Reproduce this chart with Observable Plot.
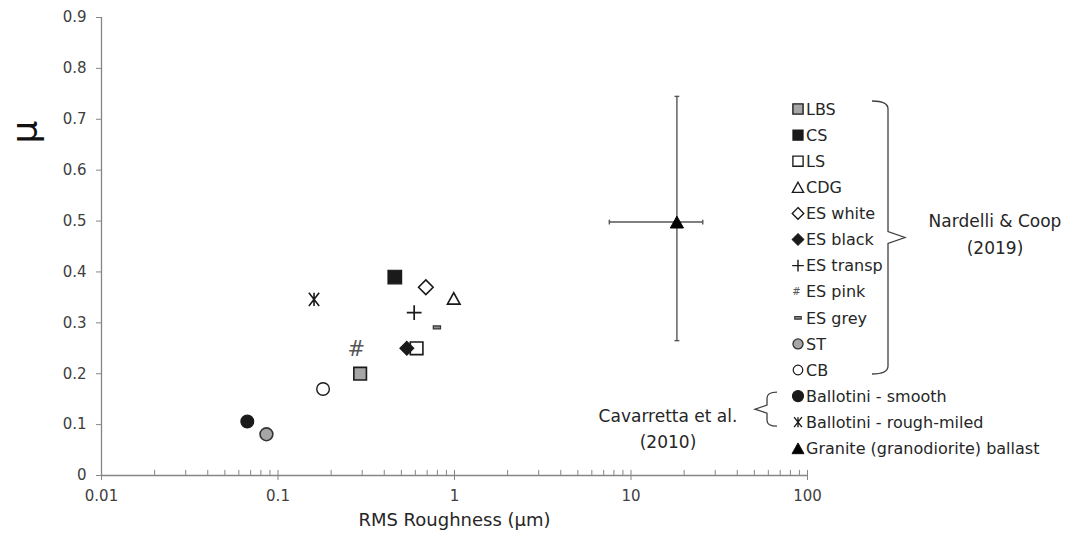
<!DOCTYPE html>
<html><head><meta charset="utf-8">
<script src="https://cdn.jsdelivr.net/npm/d3@7"></script>
<script src="https://cdn.jsdelivr.net/npm/@observablehq/plot@0.6"></script>
<style>body{margin:0;background:#fff} svg{display:block}</style>
</head><body><div id="chart"></div>
<script>
// ---- data ----
const names = ["LBS","CS","LS","CDG","ES white","ES black","ES transp","ES pink","ES grey","ST","CB","Ballotini - smooth","Ballotini - rough-miled","Granite (granodiorite) ballast"];
const rms = [0.292, 0.459, 0.610, 0.99, 0.688, 0.537, 0.591, 0.278, 0.795, 0.086, 0.180, 0.067, 0.160, 18.2];
const mu  = [0.200, 0.390, 0.250, 0.348, 0.370, 0.250, 0.320, 0.249, 0.291, 0.081, 0.170, 0.106, 0.346, 0.498];
const graniteRmsLow = [7.54], graniteRmsHigh = [25.5];
const graniteMuLow = [0.265], graniteMuHigh = [0.745];
const yTicks = [0,0.1,0.2,0.3,0.4,0.5,0.6,0.7,0.8,0.9];
const yTickLabels = ["0","0.1","0.2","0.3","0.4","0.5","0.6","0.7","0.8","0.9"];
const xTicks = [0.01,0.1,1,10,100];
const xTickLabels = ["0.01","0.1","1","10","100"];
const xMinorTicks = [0.02,0.03,0.04,0.05,0.06,0.07,0.08,0.09,0.2,0.3,0.4,0.5,0.6,0.7,0.8,0.9,2,3,4,5,6,7,8,9,20,30,40,50,60,70,80,90];
const xTitle = "RMS Roughness (\u03bcm)";
const yTitle = "\u03bc";
const groupNames = ["Nardelli & Coop", "Cavarretta et al."];
const groupYears = ["(2019)", "(2010)"];
const groupFirst = [0, 11], groupLast = [10, 12];

// ---- symbols ----
const R = s => Math.sqrt(s / Math.PI);
const sym = {
  square: {draw(c,s){const r=R(s); c.rect(-r,-r,2*r,2*r);}},
  circle: {draw(c,s){const r=R(s); c.moveTo(r,0); c.arc(0,0,r,0,2*Math.PI);}},
  triangle: {draw(c,s){const r=R(s); c.moveTo(0,-0.9*r); c.lineTo(r,0.9*r); c.lineTo(-r,0.9*r); c.closePath();}},
  diamond: {draw(c,s){const r=R(s); c.moveTo(0,-r); c.lineTo(r,0); c.lineTo(0,r); c.lineTo(-r,0); c.closePath();}},
  plus: {draw(c,s){const r=R(s); c.moveTo(-r,0); c.lineTo(r,0); c.moveTo(0,-r); c.lineTo(0,r);}},
  aster: {draw(c,s){const r=R(s), a=0.78*r; c.moveTo(-a,-r); c.lineTo(a,r); c.moveTo(a,-r); c.lineTo(-a,r); c.moveTo(0,-r); c.lineTo(0,r);}},
  dash: {draw(c,s){const r=R(s); c.rect(-r,-0.4*r,2*r,0.8*r);}},
  hcap: {draw(c,s){const r=R(s); c.moveTo(-r,0); c.lineTo(r,0);}},
  vcap: {draw(c,s){const r=R(s); c.moveTo(0,-r); c.lineTo(0,r);}}
};
const ink = "#1a1a1a", grey = "#a6a6a6";
const style = {
  "LBS": {s:"square", fill:grey, stroke:ink, sw:1.6, r:6.3, lr:5.1},
  "CS": {s:"square", fill:ink, stroke:ink, sw:1.2, r:6.8, lr:5.1},
  "LS": {s:"square", fill:"#fff", stroke:ink, sw:1.6, r:6.3, lr:5.1},
  "CDG": {s:"triangle", fill:"#fff", stroke:ink, sw:1.6, r:6.3, lr:5.6},
  "ES white": {s:"diamond", fill:"#fff", stroke:ink, sw:1.6, r:7.3, lr:5.8},
  "ES black": {s:"diamond", fill:ink, stroke:ink, sw:1.2, r:6.9, lr:5.8},
  "ES transp": {s:"plus", fill:"none", stroke:ink, sw:1.7, r:7.4, lr:5.8},
  "ES pink": {s:"hash", fill:"#555", fontSize:21, lfs:10},
  "ES grey": {s:"dash", fill:"#8c8c8c", stroke:"#333", sw:1.2, r:3.6, lr:3.3},
  "ST": {s:"circle", fill:grey, stroke:"#333", sw:1.6, r:6.4, lr:5.0},
  "CB": {s:"circle", fill:"#fff", stroke:ink, sw:1.4, r:6.3, lr:4.8},
  "Ballotini - smooth": {s:"circle", fill:ink, stroke:ink, sw:1.2, r:6.4, lr:5.6},
  "Ballotini - rough-miled": {s:"aster", fill:"none", stroke:ink, sw:1.6, r:6.6, lr:5.0},
  "Granite (granodiorite) ballast": {s:"triangle", fill:"#000", stroke:"#000", sw:1, r:6.6, lr:6.0}
};
const points = names.map((n,i) => ({name:n, rms:rms[i], mu:mu[i]}));
const err = graniteRmsLow.map((d,i) => ({x: rms[13], y: mu[13], xl: d, xh: graniteRmsHigh[i], yl: graniteMuLow[i], yh: graniteMuHigh[i]}));

const axisColor = "#868686", tickText = "#404040", textColor = "#262626";
const font = "DejaVu Sans";

const pointMarks = [];
for (const n of names) {
  const st = style[n];
  const data = points.filter(d => d.name === n);
  if (st.s === "hash") {
    pointMarks.push(Plot.text(data, {x:"rms", y:"mu", text: () => "#", fontSize: st.fontSize, fill: st.fill}));
  } else {
    pointMarks.push(Plot.dot(data, {x:"rms", y:"mu", symbol: sym[st.s], r: st.r, fill: st.fill, stroke: st.stroke, strokeWidth: st.sw}));
  }
}

const chart = Plot.plot({
  width: 1075, height: 540,
  marginLeft: 101, marginRight: 268, marginTop: 17, marginBottom: 65,
  style: {fontFamily: font, background: "#fff"},
  x: {type: "log", domain: [0.01, 100], axis: null},
  y: {domain: [0, 0.9], axis: null},
  marks: [
    Plot.axisY({ticks: yTicks, tickSize: 5, tickPadding: 10, fontSize: 15, stroke: axisColor, fill: tickText, label: null,
      tickFormat: d => yTickLabels[yTicks.indexOf(d)] ?? String(d)}),
    Plot.axisX({ticks: xTicks, tickSize: 5, tickPadding: 10, fontSize: 15, stroke: axisColor, fill: tickText, label: null,
      tickFormat: d => xTickLabels[xTicks.indexOf(d)] ?? String(d)}),
    Plot.ruleX(xMinorTicks, {y1: 0, y2: 0.01, stroke: axisColor}),
    Plot.ruleX(xTicks, {y1: 0, y2: 0.01, stroke: axisColor}),
    Plot.ruleY([0], {stroke: axisColor, strokeWidth: 1.3}),
    Plot.ruleX([0.01], {stroke: axisColor, strokeWidth: 1.3}),
    Plot.text([xTitle], {frameAnchor: "bottom", dy: 50, fontSize: 18, fill: textColor}),
    Plot.text([yTitle], {frameAnchor: "top-left", dx: -90, dy: 126, rotate: -90, fontSize: 36, fill: "#111"}),
    // error bars
    Plot.ruleX(err, {x: "x", y1: "yl", y2: "yh", stroke: "#555", strokeWidth: 1.4}),
    Plot.ruleY(err, {y: "y", x1: "xl", x2: "xh", stroke: "#555", strokeWidth: 1.4}),
    Plot.dot(err, {x: "x", y: "yl", symbol: sym.hcap, r: 2.4, stroke: "#555", strokeWidth: 1.4}),
    Plot.dot(err, {x: "x", y: "yh", symbol: sym.hcap, r: 2.4, stroke: "#555", strokeWidth: 1.4}),
    Plot.dot(err, {x: "xl", y: "y", symbol: sym.vcap, r: 2.4, stroke: "#555", strokeWidth: 1.4}),
    Plot.dot(err, {x: "xh", y: "y", symbol: sym.vcap, r: 2.4, stroke: "#555", strokeWidth: 1.4}),
    ...pointMarks
  ]
});
document.getElementById("chart").append(chart);

// ---- legend (layout constants) ----
const svg = d3.select(chart);
const legX = 798, legTextX = 806, legTop = 109, legStep = 26.1;
const rowY = i => legTop + i * legStep;
const leg = svg.append("g").attr("font-family", font).attr("font-size", 16).attr("fill", textColor).attr("text-anchor", "start");
names.forEach((n, i) => {
  const st = style[n], y = rowY(i);
  if (st.s === "hash") {
    leg.append("text").attr("x", legX - 1.5).attr("y", y).attr("dy", "0.35em").attr("text-anchor", "middle")
      .attr("font-size", st.lfs).attr("fill", st.fill).text("#");
  } else {
    leg.append("path").attr("transform", `translate(${legX},${y})`)
      .attr("d", d3.symbol(sym[st.s], Math.PI * st.lr * st.lr)())
      .attr("fill", st.fill).attr("stroke", st.stroke).attr("stroke-width", st.sw * 0.85);
  }
  leg.append("text").attr("x", legTextX).attr("y", y).attr("dy", "0.36em").attr("text-anchor", "start").text(n);
});

// ---- group brackets ----
const br = svg.append("g").attr("fill", "none").attr("stroke", "#404040").attr("stroke-width", 1.3);
{ // right bracket for group 0
  const t = rowY(groupFirst[0]) - 8, b = rowY(groupLast[0]) + 4, m = (t + b) / 2, x = 888;
  br.append("path").attr("d", `M${x-16},${t} Q${x},${t} ${x},${t+8} L${x},${m-6} L${x+17},${m} L${x},${m+6} L${x},${b-8} Q${x},${b} ${x-16},${b}`);
  const tg = svg.append("g").attr("font-family", font).attr("font-size", 17).attr("fill", textColor).attr("text-anchor", "middle");
  tg.append("text").attr("x", 995).attr("y", m - 11).text(groupNames[0]);
  tg.append("text").attr("x", 995).attr("y", m + 16).text(groupYears[0]);
}
{ // left bracket for group 1
  const t = rowY(groupFirst[1]) - 4, b = rowY(groupLast[1]) + 4, m = (t + b) / 2, x = 767;
  br.append("path").attr("d", `M${x+10},${t} Q${x},${t} ${x},${t+6} L${x},${m-4} L${x-12},${m} L${x},${m+4} L${x},${b-6} Q${x},${b} ${x+10},${b}`);
  const tg = svg.append("g").attr("font-family", font).attr("font-size", 17).attr("fill", textColor).attr("text-anchor", "middle");
  tg.append("text").attr("x", 668).attr("y", m + 13).text(groupNames[1]);
  tg.append("text").attr("x", 668).attr("y", m + 38.5).text(groupYears[1]);
}
</script></body></html>
